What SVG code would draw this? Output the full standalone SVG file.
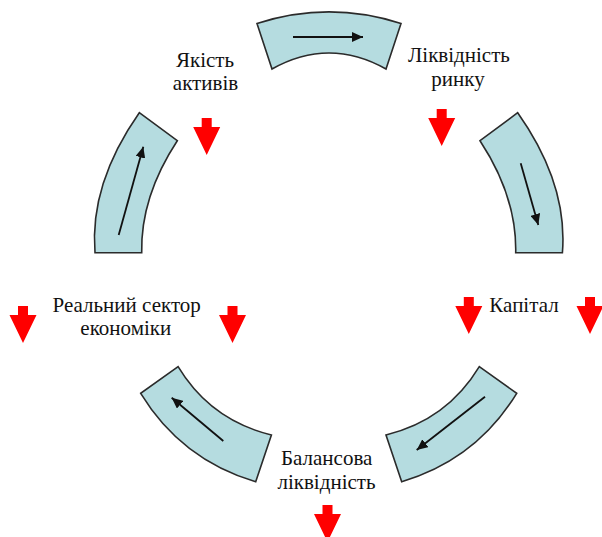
<svg xmlns="http://www.w3.org/2000/svg" width="602" height="537" viewBox="0 0 602 537">
<style>
.seg{fill:#b5dce0;stroke:#2b2b2b;stroke-width:1.6;stroke-linejoin:miter}
.arr{fill:none;stroke:#111;stroke-width:1.8}
.lbl{font-family:'Liberation Serif','DejaVu Serif','Times New Roman',serif;font-size:21px;fill:#111;text-anchor:middle}
.red{fill:#ff0000}
</style>
<defs>
<marker id="ah" markerUnits="userSpaceOnUse" markerWidth="12" markerHeight="10" refX="11" refY="5" orient="auto">
<path d="M0,0 L11,5 L0,10 Z" fill="#111"/>
</marker>
<polygon id="dn" points="-5,0 5,0 5,9 13.5,9 0,37 -13.5,9 -5,9"/>
</defs>
<rect width="602" height="537" fill="#ffffff"/>
<g id="connectors">
<path class="seg" d="M257,23.5 Q329,0.3 401,23.5 L386,69 Q329,37 272,69 Z"/>
<path class="seg" d="M517.7,112.7 L480,140.7 Q516.9,196.7 515.7,252.7 L562.4,252.7 Q568,183.9 517.7,112.7 Z"/>
<path class="seg" d="M386,435 Q446.9,420.2 479.3,366.7 L516.7,393.3 Q476.2,459.6 401.7,481.7 Z"/>
<path class="seg" d="M271.4,435 Q210.5,420.2 178.1,366.7 L140.7,393.3 Q181.2,459.6 255.7,481.7 Z"/>
<path class="seg" d="M139.3,112.7 L177.3,140.7 Q140.5,196.7 141.7,252.7 L95,252.7 Q89.4,183.9 139.3,112.7 Z"/>
<line class="arr" x1="293" y1="37" x2="363" y2="37" marker-end="url(#ah)"/>
<line class="arr" x1="520.7" y1="163.3" x2="538.3" y2="225" marker-end="url(#ah)"/>
<line class="arr" x1="485" y1="396.7" x2="416.7" y2="450" marker-end="url(#ah)"/>
<line class="arr" x1="223.3" y1="441" x2="171.7" y2="397.7" marker-end="url(#ah)"/>
<line class="arr" x1="118.7" y1="235" x2="143.3" y2="146.7" marker-end="url(#ah)"/>
</g>
<g id="node-asset-quality">
<text class="lbl" x="205" y="67">Якість</text>
<text class="lbl" x="205.5" y="90">активів</text>
<use href="#dn" class="red" x="206.7" y="118"/>
</g>
<g id="node-market-liquidity">
<text class="lbl" x="459" y="62">Ліквідність</text>
<text class="lbl" x="458" y="85.5">ринку</text>
<use href="#dn" class="red" x="441.7" y="109"/>
</g>
<g id="node-capital">
<text class="lbl" x="524" y="311.5">Капітал</text>
<use href="#dn" class="red" x="468.8" y="297"/>
<use href="#dn" class="red" x="590" y="297"/>
</g>
<g id="node-balance-liquidity">
<text class="lbl" x="326.7" y="465">Балансова</text>
<text class="lbl" x="326.5" y="488.5">ліквідність</text>
<use href="#dn" class="red" x="327.5" y="505"/>
</g>
<g id="node-real-sector">
<text class="lbl" x="126.7" y="311.5">Реальний сектор</text>
<text class="lbl" x="125.8" y="335">економіки</text>
<use href="#dn" class="red" x="23" y="306"/>
<use href="#dn" class="red" x="232.5" y="306"/>
</g>
</svg>
